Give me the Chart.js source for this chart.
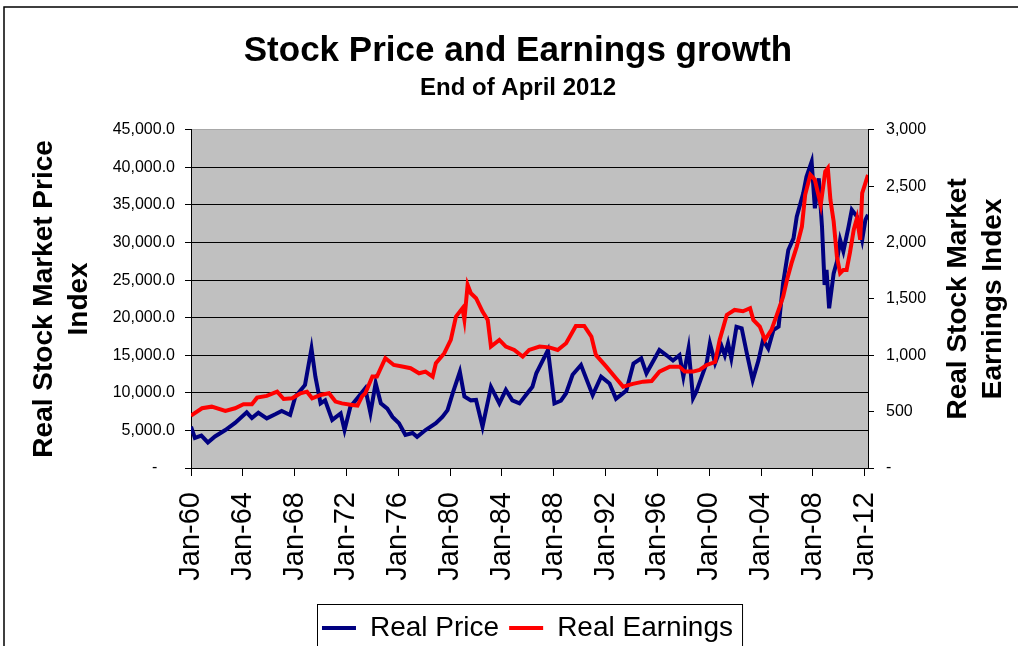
<!DOCTYPE html>
<html>
<head>
<meta charset="utf-8">
<script src="https://cdn.jsdelivr.net/npm/chart.js@4.4.1/dist/chart.umd.min.js"></script>
<style>
  html, body { margin: 0; padding: 0; background: #fff; }
  #wrap { width: 1018px; height: 646px; }
</style>
</head>
<body>
<div id="wrap"><canvas id="stock-chart" width="1018" height="646"></canvas></div>
<script>
// start: Data
// dates are decimal years
const priceYears = [1960, 1960.3, 1960.8, 1961.3, 1961.85, 1962.65, 1963.4, 1964.3, 1964.7, 1965.2,
    1965.85, 1966.5, 1967.0, 1967.65, 1968.05, 1968.8, 1969.3, 1969.6, 1970.0, 1970.35,
    1970.9, 1971.55, 1971.85, 1972.3, 1972.85, 1973.45, 1973.85, 1974.25, 1974.65, 1975.15,
    1975.55, 1976.05, 1976.55, 1977.1, 1977.45, 1978.1, 1978.9, 1979.4, 1979.8, 1980.2,
    1980.75, 1981.1, 1981.6, 1982.0, 1982.5, 1983.15, 1983.8, 1984.3, 1984.8, 1985.35,
    1985.85, 1986.35, 1986.65, 1987.55, 1988.05, 1988.55, 1988.95, 1989.45, 1990.1, 1991.0,
    1991.65, 1992.3, 1992.8, 1993.6, 1994.15, 1994.75, 1995.15, 1996.15, 1996.7, 1997.2,
    1997.7, 1998.0, 1998.4, 1998.75, 1999.0, 1999.25, 1999.8, 2000.05, 2000.45, 2000.95,
    2001.2, 2001.45, 2001.7, 2002.1, 2002.5, 2002.9, 2003.35, 2003.8, 2004.15, 2004.55,
    2004.95, 2005.35, 2005.7, 2006.1, 2006.5, 2006.75, 2007.25, 2007.5, 2007.9, 2008.15,
    2008.45, 2008.7, 2008.9, 2009.05, 2009.25, 2009.6, 2009.85, 2010.1, 2010.35, 2010.75,
    2011.0, 2011.4, 2011.8, 2012.05, 2012.25]
const realPrice = [5500, 4000, 4300, 3400, 4200, 5050, 6000, 7400, 6650, 7350,
    6600, 7150, 7600, 7050, 9500, 11050, 15900, 12150, 8600, 9000,
    6400, 7250, 5050, 8150, 9300, 10600, 7300, 11300, 8600, 7900,
    6800, 5950, 4400, 4650, 4150, 5050, 5950, 6800, 7700, 9950,
    12800, 9500, 9000, 9050, 5500, 10800, 8600, 10400, 9000, 8600,
    9700, 10800, 12600, 15700, 8600, 8950, 9950, 12400, 13700, 9700,
    12150, 11250, 9200, 10300, 13900, 14600, 12600, 15700, 15000, 14300,
    15000, 12150, 15900, 9300, 10150, 11350, 14000, 16600, 13950, 16200,
    15000, 16600, 14600, 18800, 18600, 15250, 11700, 14350, 17050, 15900,
    18350, 18800, 24600, 29000, 30550, 33450, 36550, 38750, 40750, 34550,
    38550, 32100, 24350, 26350, 21250, 25900, 27450, 30350, 28850, 32100,
    34350, 33450, 30350, 33000, 33700]

const earningsYears = [1960, 1960.85, 1961.6, 1962.65, 1963.4, 1964.05, 1964.7, 1965.1, 1965.85, 1966.65,
    1967.15, 1967.8, 1968.45, 1968.95, 1969.35, 1970.0, 1970.65, 1971.15, 1971.65, 1972.45,
    1972.85, 1973.2, 1973.45, 1974.0, 1974.35, 1975.0, 1975.65, 1976.3, 1976.95, 1977.6,
    1978.1, 1978.65, 1978.9, 1979.55, 1980.05, 1980.45, 1980.95, 1981.1, 1981.35, 1981.6,
    1982.0, 1982.5, 1982.9, 1983.15, 1983.8, 1984.3, 1984.95, 1985.6, 1986.1, 1986.9,
    1987.65, 1988.3, 1988.95, 1989.7, 1990.35, 1990.9, 1991.25, 1992.05, 1992.8, 1993.35,
    1994.1, 1994.9, 1995.55, 1996.15, 1996.95, 1997.7, 1998.1, 1998.75, 1999.25, 1999.8,
    2000.45, 2000.8, 2001.35, 2001.95, 2002.6, 2003.15, 2003.4, 2003.9, 2004.3, 2004.8,
    2005.35, 2005.7, 2006.0, 2006.35, 2006.75, 2007.15, 2007.4, 2007.8, 2008.15, 2008.6,
    2008.95, 2009.15, 2009.35, 2009.6, 2009.85, 2010.1, 2010.35, 2010.6, 2010.85, 2011.15,
    2011.4, 2011.65, 2011.8, 2012.05, 2012.25]
const realEarnings = [464, 530, 544, 506, 530, 565, 565, 624, 640, 677,
    612, 618, 663, 677, 618, 648, 663, 589, 573, 559,
    553, 635, 663, 811, 811, 974, 914, 900, 885, 840,
    855, 811, 930, 1018, 1136, 1343, 1417, 1316, 1624, 1550,
    1506, 1387, 1314, 1077, 1136, 1077, 1047, 988, 1047, 1077,
    1070, 1047, 1107, 1260, 1260, 1166, 1003, 899, 796, 722,
    746, 766, 772, 855, 899, 899, 855, 855, 870, 914,
    940, 1136, 1358, 1402, 1390, 1417, 1314, 1255, 1136, 1225,
    1402, 1520, 1669, 1817, 1964, 2142, 2423, 2601, 2557, 2334,
    2630, 2660, 2379, 2186, 1876, 1728, 1757, 1757, 1906, 2113,
    2216, 2024, 2438, 2527, 2600]

const tickYears = [1960, 1964, 1968, 1972, 1976, 1980, 1984, 1988, 1992, 1996, 2000, 2004, 2008, 2012]
const leftTitle = ['Real Stock Market Price', 'Index']
const rightTitle = ['Real Stock Market', 'Earnings Index']
// end: Data



// start: Chart
const FONT = "'Liberation Sans', Arial, sans-serif"
Chart.defaults.font.family = FONT
Chart.defaults.color = '#000'

function toPoints(xs, ys) {
    return xs.map(function (x, i) {
        return { x: x, y: ys[i] }
    })
}

// grey plot, outer frame, right axis title, legend box
const chartDecor = {
    id: 'chartDecor',
    afterLayout(chart) {
        chart.boxes.forEach(function (b) {
            if (b.position === 'top') b.left += 18
        })
        chart.legend.left += 37
    },
    beforeDraw(chart) {
        const { ctx, chartArea: a } = chart
        ctx.save()
        ctx.fillStyle = '#fff'
        ctx.fillRect(0, 0, chart.width, chart.height)
        ctx.fillStyle = '#c0c0c0'
        ctx.fillRect(a.left, a.top, a.right - a.left, a.bottom - a.top)
        ctx.strokeStyle = '#000'
        ctx.lineWidth = 1.5
        ctx.strokeRect(4, 7, chart.width + 20, chart.height + 20)
        ctx.restore()
    },
    afterDraw(chart) {
        const { ctx, chartArea: a } = chart
        ctx.save()
        ctx.font = 'bold 28px ' + FONT
        ctx.fillStyle = '#000'
        ctx.textAlign = 'center'
        ctx.textBaseline = 'middle'
        const cy = (a.top + a.bottom) / 2
        rightTitle.forEach(function (line, i) {
            ctx.save()
            ctx.translate(chart.width - 60 + i * 35, cy)
            ctx.rotate(-Math.PI / 2)
            ctx.fillText(line, 0, 0)
            ctx.restore()
        })
        const hb = chart.legend.legendHitBoxes
        if (hb.length) {
            const first = hb[0]
            const last = hb[hb.length - 1]
            ctx.strokeStyle = '#000'
            ctx.lineWidth = 1
            ctx.strokeRect(Math.round(first.left) - 4.5, Math.round(chart.legend.top) + 0.5,
                last.left + last.width - first.left + 14, 80)
        }
        ctx.restore()
    }
}

new Chart(document.getElementById('stock-chart'), {
    type: 'line',
    data: {
        datasets: [
            {
                label: 'Real Price',
                data: toPoints(priceYears, realPrice),
                borderColor: '#000080',
                backgroundColor: '#000080',
                borderWidth: 4,
                pointRadius: 0,
                tension: 0,
                yAxisID: 'y',
                order: 1
            },
            {
                label: 'Real Earnings',
                data: toPoints(earningsYears, realEarnings),
                borderColor: '#ff0000',
                backgroundColor: '#ff0000',
                borderWidth: 4,
                pointRadius: 0,
                tension: 0,
                yAxisID: 'y2',
                order: 0
            }
        ]
    },
    options: {
        responsive: false,
        animation: false,
        devicePixelRatio: 1,
        layout: { padding: { top: 0, left: 0, right: 0, bottom: -6 } },
        plugins: {
            title: {
                display: true,
                text: 'Stock Price and Earnings growth',
                font: { size: 35, weight: 'bold' },
                padding: { top: 30, bottom: 0 }
            },
            subtitle: {
                display: true,
                text: 'End of April 2012',
                color: '#000',
                font: { size: 24, weight: 'bold' },
                padding: { top: 2, bottom: 27 }
            },
            legend: {
                position: 'bottom',
                labels: {
                    usePointStyle: true,
                    pointStyle: 'line',
                    pointStyleWidth: 34,
                    padding: 10,
                    color: '#000',
                    font: { size: 28 },
                    sort: function (a, b) { return a.datasetIndex - b.datasetIndex }
                }
            },
            tooltip: { enabled: false }
        },
        scales: {
            x: {
                type: 'linear',
                min: 1960,
                max: 2012.25,
                afterBuildTicks: function (axis) {
                    axis.ticks = tickYears.map(function (v) { return { value: v } })
                },
                afterFit: function (axis) { axis.height = 136 },
                ticks: {
                    autoSkip: false,
                    minRotation: 90,
                    maxRotation: 90,
                    padding: 16,
                    font: { size: 29 },
                    callback: function (v) { return 'Jan-' + String(v % 100).padStart(2, '0') }
                },
                grid: { drawOnChartArea: false, tickLength: 8, color: '#000' },
                border: { color: '#000' }
            },
            y: {
                position: 'left',
                min: 0,
                max: 45000,
                afterFit: function (axis) { axis.width = 191 },
                ticks: {
                    stepSize: 5000,
                    padding: 10,
                    font: { size: 16 },
                    callback: function (v) {
                        return v === 0 ? '-    ' : v.toLocaleString('en-US', { minimumFractionDigits: 1, maximumFractionDigits: 1 })
                    }
                },
                grid: {
                    tickLength: 6,
                    tickColor: '#000',
                    color: function (c) { return c.tick && c.tick.value === 45000 ? '#a8a8a8' : '#000' }
                },
                border: { color: '#000' },
                title: {
                    display: true,
                    text: leftTitle,
                    font: { size: 28, weight: 'bold', lineHeight: 1.25 },
                    padding: { top: 27, bottom: 0 }
                }
            },
            y2: {
                position: 'right',
                min: 0,
                max: 3000,
                afterFit: function (axis) { axis.width = 150 },
                ticks: {
                    stepSize: 500,
                    padding: 12,
                    font: { size: 16 },
                    callback: function (v) { return v === 0 ? '-' : v.toLocaleString('en-US') }
                },
                grid: { drawOnChartArea: false, tickLength: 6, color: '#000' },
                border: { color: '#000' }
            }
        }
    },
    plugins: [chartDecor]
});
// end: Chart
</script>
</body>
</html>
